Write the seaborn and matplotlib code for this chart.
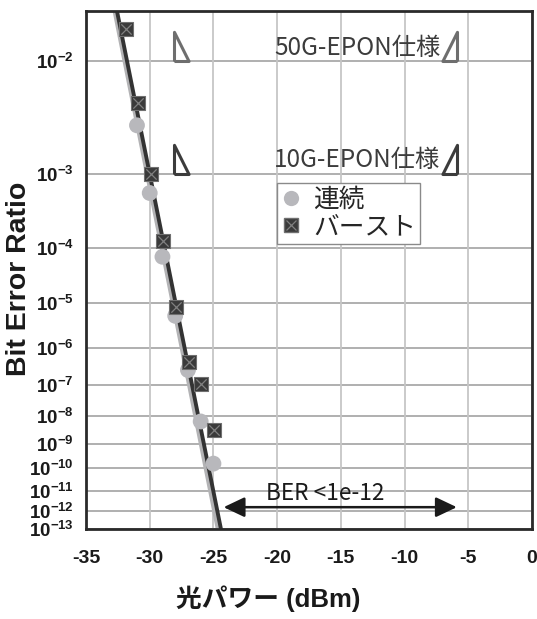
import numpy as np
import matplotlib
matplotlib.use("Agg")
import matplotlib.pyplot as plt
import seaborn as sns
from matplotlib.legend_handler import HandlerTuple
from matplotlib.lines import Line2D

# ---------------- data ----------------
power_cont = [-31.0, -30.0, -29.0, -28.0, -27.0, -26.0, -25.0]
ber_cont = [3.1e-3, 5.9e-4, 7.2e-5, 5.5e-6, 2.6e-7, 6.6e-9, 1.6e-10]

power_burst = [-31.9, -30.95, -29.9, -28.95, -27.95, -26.9, -26.0, -24.95]
ber_burst = [1.6e-2, 4.8e-3, 1.0e-3, 1.3e-4, 8.3e-6, 4.4e-7, 1.07e-7, 3.4e-9]

fit_power_cont = [-32.72, -24.62]
fit_ber_cont = [2.01e-2, 1e-13]
fit_power_burst = [-32.57, -24.41]
fit_ber_burst = [2.01e-2, 1e-13]

spec_labels = ["50G-EPON仕様", "10G-EPON仕様"]
spec_ber = [1e-2, 1e-3]
spec_left_power = -28.1
spec_right_power = -5.9
spec_text_power = -7.2

arrow_power = [-24.2, -5.9]
arrow_ber = 1.5e-12
arrow_label = "BER <1e-12"
arrow_label_power = -16.2

legend_labels = ["連続", "バースト"]
x_ticks = [-35, -30, -25, -20, -15, -10, -5, 0]
y_exps = list(range(2, 14))

# ---------------- style ----------------
sns.set_theme(style="white")
plt.rcParams['font.family'] = ['Liberation Sans', 'Noto Sans CJK JP', 'DejaVu Sans']
plt.rcParams['mathtext.fontset'] = 'custom'
plt.rcParams['mathtext.rm'] = 'Liberation Sans:bold'
plt.rcParams['mathtext.bf'] = 'Liberation Sans:bold'
plt.rcParams['mathtext.it'] = 'Liberation Sans:bold'

def fwd(b):
    b = np.clip(np.asarray(b, dtype=float), 1e-300, 0.3)
    return -np.log10(np.maximum(-np.log10(b) - 0.5, 1e-6))

def inv(y):
    y = np.asarray(y, dtype=float)
    return 10.0 ** (-(10.0 ** (-y) + 0.5))

fig = plt.figure(figsize=(5.37, 6.19), dpi=100)
ax = fig.add_axes([86/537, 1-529/619, (532-86)/537, (529-11)/619])
ax.set_yscale('function', functions=(fwd, inv))

# fit lines
sns.lineplot(x=fit_power_cont, y=fit_ber_cont, ax=ax, color="#b3b3b5", lw=3.6,
             sort=False, zorder=3)
sns.lineplot(x=fit_power_burst, y=fit_ber_burst, ax=ax, color="#333333", lw=2.8,
             sort=False, zorder=4)

# points
sns.scatterplot(x=power_cont, y=ber_cont, ax=ax, marker='o', s=130,
                color="#b8b8bc", edgecolor="none", zorder=5)
sns.scatterplot(x=power_burst, y=ber_burst, ax=ax, marker='s', s=115,
                color="#3a3a3a", edgecolor="#707070", linewidth=0.8, zorder=6)
sns.scatterplot(x=power_burst, y=ber_burst, ax=ax, marker='x', s=55,
                color="#808080", linewidth=0.9, zorder=7)

# spec triangles
tri_left = [(0, 0), (0, 2), (1, 0), (0, 0)]
tri_right = [(0, 0), (0, 2), (-1, 0), (0, 0)]
spec_colors = ["#6e6e6e", "#3c3c3c"]
for lab, b, c in zip(spec_labels, spec_ber, spec_colors):
    ax.plot([spec_left_power], [b], marker=tri_left, ms=42, mfc='none',
            mec=c, mew=2.2, ls='none', zorder=6, clip_on=False)
    ax.plot([spec_right_power], [b], marker=tri_right, ms=42, mfc='none',
            mec=c, mew=2.2, ls='none', zorder=6, clip_on=False)
    ax.annotate(lab, xy=(spec_text_power, b), xytext=(0, 9.5),
                textcoords='offset points', ha='right', va='center',
                fontsize=17.5, color="#3c3c3c",
                family=['Noto Sans CJK JP', 'DejaVu Sans'])

# arrow
ax.annotate('', xy=(arrow_power[0], arrow_ber), xytext=(arrow_power[1], arrow_ber),
            arrowprops=dict(arrowstyle='<|-|>,head_length=0.8,head_width=0.38',
                            color="#1a1a1a", lw=1.8, shrinkA=0, shrinkB=0,
                            mutation_scale=16), zorder=6)
ax.annotate(arrow_label, xy=(arrow_label_power, arrow_ber), xytext=(0, 9.5),
            textcoords='offset points', ha='center', va='center',
            fontsize=16.3, color="#1a1a1a",
            family=['Noto Sans CJK JP', 'DejaVu Sans'])

# axes
ax.set_xlim(-35, 0)
ax.set_ylim(1e-13, 2.01e-2)
ax.set_xticks(x_ticks)
ax.set_xticklabels([str(t) for t in x_ticks])
ax.set_yticks([10.0 ** (-e) for e in y_exps])
ax.set_yticklabels([r"$\mathbf{10^{-%d}}$" % e for e in y_exps])
ax.yaxis.set_minor_locator(matplotlib.ticker.NullLocator())
ax.tick_params(axis='both', length=0, colors="#1a1a1a")
ax.tick_params(axis='x', pad=15, labelsize=14)
ax.tick_params(axis='y', pad=9, labelsize=13.5)
for lab in ax.get_xticklabels():
    lab.set_fontweight('bold')

ax.grid(False)
for b in [10.0 ** (-e) for e in y_exps]:
    ax.axhline(b, color="#a9a9a9", lw=1.3, zorder=1)
for t in x_ticks:
    ax.axvline(t, color="#c6c6c6", lw=1.3, zorder=1)

for sp in ax.spines.values():
    sp.set_color("#2a2a2a")
    sp.set_linewidth(2.0)
    sp.set_visible(True)
    sp.set_zorder(8)

ax.set_xlabel("光パワー (dBm)", fontsize=18.5, fontweight='bold',
              color="#1a1a1a")
ax.xaxis.set_label_coords((268-86)/446, -(585-529)/518)
ax.set_ylabel("Bit Error Ratio", fontsize=20.5, fontweight='bold',
              color="#1a1a1a")
ax.yaxis.set_label_coords((32-86)/446, (529-279)/518)

# legend
h1 = Line2D([], [], marker='o', color='none', mfc="#b8b8bc", mec='none', ms=11)
h2a = Line2D([], [], marker='s', color='none', mfc="#3a3a3a", mec="#707070", ms=10)
h2b = Line2D([], [], marker='x', color='none', mec="#808080", ms=7, mew=0.9)
leg = ax.legend([h1, (h2a, h2b)], legend_labels,
                handler_map={tuple: HandlerTuple(ndivide=1, pad=0)},
                loc='upper left', bbox_to_anchor=((277-86)/446, (529-182.7)/518),
                prop={'family': ['Noto Sans CJK JP', 'DejaVu Sans'], 'size': 18.5},
                frameon=True, fancybox=False, framealpha=1, edgecolor="#8a8a8a",
                handlelength=0.8, handletextpad=0.45, borderpad=0.15,
                labelspacing=0.05, borderaxespad=0)
leg.get_frame().set_linewidth(1.0)
leg.set_zorder(9)

fig.savefig("out.png", dpi=100)
